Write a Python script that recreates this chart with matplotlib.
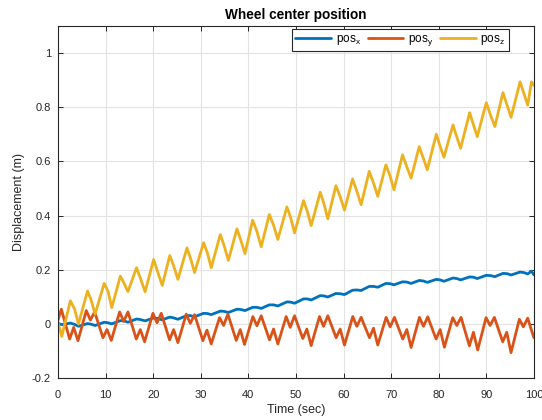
import matplotlib
matplotlib.use("Agg")
import matplotlib.pyplot as plt
from matplotlib.ticker import FuncFormatter

plt.rcParams['font.family'] = ['Liberation Sans', 'DejaVu Sans']
plt.rcParams['mathtext.fontset'] = 'custom'
plt.rcParams['mathtext.rm'] = 'Liberation Sans'

# sample times shared by pos_x and pos_z (peaks / shoulders / troughs of pos_z)
t_xz = [0.0, 0.8, 2.6, 3.5, 4.3, 6.2, 6.9, 7.8, 9.7, 10.5, 11.3, 13.1, 13.9, 14.7,
        16.5, 17.3, 18.3, 20.1, 20.9, 21.9, 23.5, 24.3, 25.2, 27.1, 27.9, 28.7,
        30.6, 31.4, 32.2, 34.1, 34.9, 35.8, 37.6, 38.4, 39.3, 40.9, 41.8, 42.7,
        44.4, 45.3, 46.2, 48.1, 48.9, 49.7, 51.6, 52.4, 53.2, 55.1, 55.9, 56.7,
        58.4, 59.3, 60.2, 61.9, 62.8, 63.7, 65.4, 66.3, 67.2, 68.9, 69.8, 70.6,
        72.4, 73.3, 74.2, 75.9, 76.8, 77.6, 79.5, 80.3, 81.1, 83.0, 83.8, 84.6,
        86.5, 87.3, 88.1, 90.0, 90.9, 91.8, 93.5, 94.4, 95.2, 97.1, 97.9, 98.7,
        99.5, 100.0]

pos_z = [0.006, -0.045, 0.086, 0.055, 0.000, 0.122, 0.092, 0.037, 0.150, 0.122, 0.061,
         0.177, 0.150, 0.120, 0.208, 0.170, 0.119, 0.238, 0.195, 0.143, 0.253, 0.215,
         0.165, 0.281, 0.240, 0.190, 0.300, 0.262, 0.208, 0.330, 0.290, 0.235, 0.351,
         0.310, 0.260, 0.383, 0.342, 0.285, 0.404, 0.365, 0.312, 0.432, 0.392, 0.336,
         0.455, 0.415, 0.363, 0.486, 0.443, 0.388, 0.510, 0.470, 0.420, 0.535, 0.490,
         0.440, 0.563, 0.520, 0.471, 0.587, 0.545, 0.495, 0.624, 0.580, 0.538, 0.654,
         0.610, 0.569, 0.700, 0.655, 0.615, 0.734, 0.690, 0.648, 0.779, 0.735, 0.691,
         0.816, 0.770, 0.728, 0.853, 0.805, 0.762, 0.893, 0.850, 0.807, 0.893, 0.880]

pos_x = [0.003, -0.002, 0.004, -0.001, -0.008, 0.002, 0.000, -0.005, 0.007, 0.005, 0.001,
         0.013, 0.012, 0.007, 0.019, 0.017, 0.012, 0.023, 0.021, 0.016, 0.026, 0.023,
         0.018, 0.032, 0.031, 0.027, 0.040, 0.039, 0.035, 0.048, 0.047, 0.043, 0.055,
         0.054, 0.050, 0.062, 0.062, 0.058, 0.071, 0.071, 0.067, 0.082, 0.081, 0.077,
         0.093, 0.093, 0.089, 0.105, 0.104, 0.100, 0.113, 0.112, 0.109, 0.125, 0.126,
         0.124, 0.139, 0.139, 0.136, 0.150, 0.149, 0.145, 0.156, 0.155, 0.150, 0.161,
         0.159, 0.154, 0.165, 0.163, 0.158, 0.170, 0.168, 0.163, 0.174, 0.173, 0.168,
         0.180, 0.179, 0.175, 0.187, 0.186, 0.181, 0.192, 0.190, 0.185, 0.195, 0.182]

# pos_y has its own extremes (double peak, double trough every ~7 s)
t_y = [0.0, 0.7, 2.45, 3.3, 4.2, 5.95, 6.8, 7.7, 9.45, 10.3, 11.2, 12.95, 13.8, 14.7,
       16.45, 17.3, 18.2, 19.95, 20.8, 21.7, 23.45, 24.3, 25.2, 26.95, 27.8, 28.7,
       30.45, 31.3, 32.2, 33.95, 34.8, 35.7, 37.45, 38.3, 39.2, 40.95, 41.8, 42.7,
       44.45, 45.3, 46.2, 47.95, 48.8, 49.7, 51.45, 52.3, 53.2, 54.95, 55.8, 56.7,
       58.45, 59.3, 60.2, 61.95, 62.8, 63.7, 65.45, 66.3, 67.2, 68.95, 69.8, 70.7,
       72.45, 73.3, 74.2, 75.95, 76.8, 77.7, 79.45, 80.3, 81.2, 82.95, 83.8, 84.7,
       86.45, 87.3, 88.2, 89.95, 90.8, 91.7, 93.45, 94.3, 95.2, 96.95, 97.8, 98.7,
       100.0]

pos_y = [0.015, 0.055, -0.055, -0.012, -0.061, 0.050, 0.015, 0.045, -0.050, -0.020, -0.060,
         0.045, 0.010, 0.045, -0.055, -0.020, -0.065, 0.040, 0.005, 0.040, -0.058, -0.020,
         -0.068, 0.037, 0.003, 0.035, -0.061, -0.022, -0.073, 0.024, -0.005, 0.037, -0.060,
         -0.020, -0.075, 0.028, -0.006, 0.031, -0.058, -0.018, -0.073, 0.028, -0.012, 0.031,
         -0.053, -0.018, -0.079, 0.028, -0.008, 0.031, -0.050, -0.018, -0.077, 0.028, -0.008,
         0.025, -0.050, -0.015, -0.077, 0.025, -0.010, 0.025, -0.055, -0.020, -0.086, 0.025,
         -0.008, 0.027, -0.055, -0.020, -0.085, 0.024, -0.005, 0.025, -0.080, -0.030, -0.095,
         0.024, -0.005, 0.025, -0.065, -0.030, -0.105, 0.018, -0.010, 0.022, -0.050]

x_ticks = [0, 10, 20, 30, 40, 50, 60, 70, 80, 90, 100]
y_ticks = [-0.2, 0, 0.2, 0.4, 0.6, 0.8, 1.0]

c_x = "#0072BD"
c_y = "#D95319"
c_z = "#EDB120"
dark = "#262626"


def main() -> None:
    fig = plt.figure(figsize=(5.42, 4.2), dpi=100)
    ax = fig.add_axes([0.107, 0.099, 0.878, 0.840])

    line_kw = dict(lw=2.0, solid_joinstyle="round", solid_capstyle="round")
    ax.plot(t_xz, pos_x, color=c_x, label=r'pos$_{\mathrm{x}}$', **line_kw)
    ax.plot(t_y, pos_y, color=c_y, label=r'pos$_{\mathrm{y}}$', **line_kw)
    ax.plot(t_xz, pos_z, color=c_z, label=r'pos$_{\mathrm{z}}$', **line_kw)

    ax.set_xlim(0, 100)
    ax.set_ylim(-0.2, 1.1)
    ax.set_xticks(x_ticks)
    ax.set_yticks(y_ticks)
    ax.yaxis.set_major_formatter(FuncFormatter(lambda v, p: "%g" % round(v, 2)))

    ax.grid(True, color="#e3e3e3", lw=0.8)
    ax.set_axisbelow(True)
    ax.tick_params(direction="in", length=3.5, width=0.7, top=True, right=True,
                   labelsize=8, colors=dark)
    ax.tick_params(axis="x", pad=8.5)
    ax.tick_params(axis="y", pad=5)
    for s in ax.spines.values():
        s.set_color(dark)
        s.set_linewidth(0.8)

    ax.set_title("Wheel center position", fontsize=9.8, fontweight="bold", pad=5)
    ax.set_xlabel("Time (sec)", fontsize=9, color=dark, labelpad=3)
    ax.set_ylabel("Displacement (m)", fontsize=9, color=dark, labelpad=5)

    leg = ax.legend(loc="upper right", bbox_to_anchor=(0.947, 0.990), borderaxespad=0,
                    ncol=3, fontsize=8.5, handlelength=3.0, columnspacing=0.6,
                    handletextpad=0.4, fancybox=False, framealpha=1, borderpad=0.3)
    leg.get_frame().set_edgecolor(dark)
    leg.get_frame().set_linewidth(0.8)

    fig.savefig("out.png", dpi=100)


if __name__ == "__main__":
    main()
